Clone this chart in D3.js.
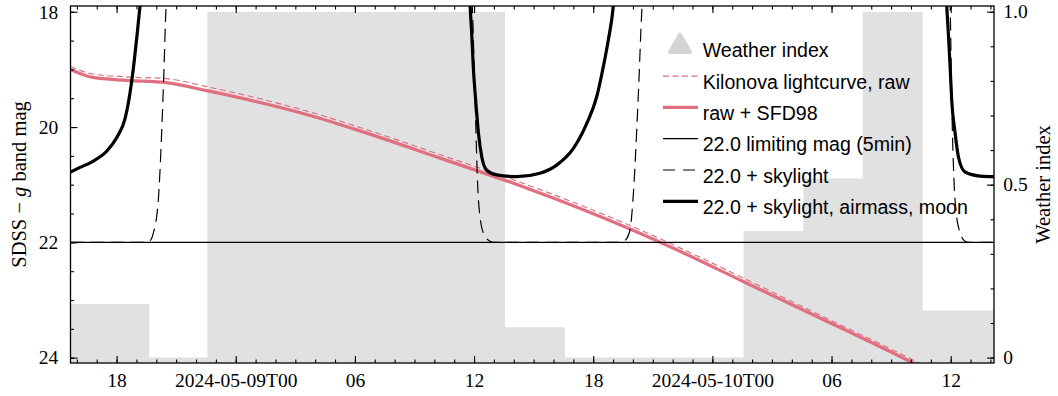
<!DOCTYPE html>
<html>
<head>
<meta charset="utf-8">
<script src="https://cdn.jsdelivr.net/npm/d3@7"></script>
<style>
body{margin:0;background:#fff;}
.tick text{font-family:"Liberation Serif",serif;font-size:19.5px;fill:#000;}
.tick line{stroke:#000;stroke-width:1.1;}
</style>
</head>
<body>
<div id="chart"></div>
<script>
//=====================data (hours from 2024-05-09T00 UTC)=========================
const baseTime = Date.UTC(2024, 4, 9, 0, 0);
const xStartHour = -8.32, xEndHour = 38.18;

const weatherHours = [-8.32, -4.35, -1.43, 13.56, 16.58, 25.57, 28.58, 31.57, 34.59, 38.18];
const weatherIndex = [0.155, 0, 1, 0.088, 0, 0.366, 0.518, 1, 0.136, 0.136];

const lcHours  = [-8.32, -7.2, -5.5, -3.5, -1.45, 3.75, 6.1, 10.3, 14.5, 20.0, 22.4, 25.5, 29.1, 33.45, 34.5];
const lcRaw    = [18.95, 19.08, 19.13, 19.16, 19.30, 19.74, 19.99, 20.48, 20.98, 21.73, 22.10, 22.61, 23.21, 23.93, 24.11];
const lcSFD98  = [19.00, 19.14, 19.19, 19.23, 19.37, 19.80, 20.05, 20.54, 21.04, 21.79, 22.16, 22.67, 23.26, 23.98, 24.16];

const limitMag = 22.0;

const skyHours = [-8.32, -4.5, -4.31, -4.15, -3.90, -3.73, -3.61, -3.52, -3.35,
                  11.75, 11.91, 12.05, 12.22, 12.47, 12.80, 13.0,
                  19.4, 19.60, 19.85, 20.00, 20.26, 20.46, 20.6,
                  35.85, 35.97, 36.05, 36.22, 36.43, 36.72, 36.9, 38.18];
const skyMag   = [22.0, 22.0, 21.97, 21.84, 21.27, 20.10, 18.96, 18.0, 17.3,
                  17.3, 17.9, 19.53, 21.27, 21.84, 21.98, 22.0,
                  22.0, 21.97, 21.79, 21.27, 19.53, 17.9, 17.3,
                  17.3, 17.9, 19.53, 21.27, 21.79, 21.98, 22.0, 22.0];

const moonHours = [-8.32, -7.84, -7.17, -6.50, -5.99, -5.57, -5.32, -5.12, -4.95, -4.82, -4.7,
                   11.7, 11.80, 11.88, 11.96, 12.08, 12.22, 12.39, 12.64, 13.14, 14.15, 15.32, 16.16, 17.00, 17.67, 18.18, 18.51, 18.76, 19.01, 19.1,
                   35.7, 35.80, 35.88, 35.97, 36.05, 36.22, 36.39, 36.72, 37.48, 38.18];
const moonMag   = [20.78, 20.70, 20.59, 20.42, 20.18, 19.85, 19.40, 18.88, 18.34, 17.9, 17.5,
                   17.5, 17.9, 18.37, 18.95, 19.53, 20.10, 20.52, 20.75, 20.83, 20.86, 20.80, 20.66, 20.37, 19.94, 19.47, 18.95, 18.49, 17.9, 17.5,
                   17.5, 17.9, 18.37, 18.95, 19.53, 20.10, 20.52, 20.78, 20.85, 20.86];

const xTickHours  = [-6, 0, 6, 12, 18, 24, 30, 36];
const xTickLabels = ['18', '2024-05-09T00', '06', '12', '18', '2024-05-10T00', '06', '12'];
const magTicks = [18, 20, 22, 24];
const weatherTicks = [0, 0.5, 1.0];
const weatherTickLabels = ['0', '0.5', '1.0'];

const legendLabels = ['Weather index', 'Kilonova lightcurve, raw', 'raw + SFD98',
                      '22.0 limiting mag (5min)', '22.0 + skylight', '22.0 + skylight, airmass, moon'];

//=====================plot size=========================
var width = 1058, height = 396;
var plotLeft = 70.5, plotTop = 6, plotRight = 994, plotBottom = 363;
var plotW = plotRight - plotLeft, plotH = plotBottom - plotTop;
var pink = '#df6f81';

function toDate(h){ return new Date(baseTime + h*3600e3); }

var svg = d3.select('#chart').append('svg')
    .attr('width', width).attr('height', height);
svg.append('rect').attr('width', width).attr('height', height).attr('fill', '#fff');

var g = svg.append('g').attr('transform', 'translate(' + plotLeft + ',' + plotTop + ')');

g.append('clipPath').attr('id', 'clip')
    .append('rect').attr('width', plotW).attr('height', plotH);

//=====================scales=========================
var x = d3.scaleUtc().domain([toDate(xStartHour), toDate(xEndHour)]).range([0, plotW]);
var y = d3.scaleLinear().domain([17.9, 24.093]).range([0, plotH]);
var yW = d3.scaleLinear().domain([-0.0156, 1.0165]).range([plotH, 0]);

var plot = g.append('g').attr('clip-path', 'url(#clip)');

//=====================weather steps=========================
var wData = weatherHours.map((h, i) => ({t: toDate(h), w: weatherIndex[i]}));
plot.append('path')
    .datum(wData)
    .attr('d', d3.area().curve(d3.curveStepAfter)
        .x(d => x(d.t)).y0(yW(yW.domain()[0])).y1(d => yW(d.w)))
    .attr('fill', '#e1e1e1');

//=====================lines=========================
function series(hours, mags){ return hours.map((h, i) => ({t: toDate(h), m: mags[i]})); }
var line = d3.line().curve(d3.curveMonotoneX).x(d => x(d.t)).y(d => y(d.m));

plot.append('path').datum(series(lcHours, lcRaw)).attr('d', line)
    .attr('fill', 'none').attr('stroke', pink).attr('stroke-width', 1.2)
    .attr('stroke-dasharray', '6,3.5');
plot.append('path').datum(series(lcHours, lcSFD98)).attr('d', line)
    .attr('fill', 'none').attr('stroke', pink).attr('stroke-width', 3.3);

plot.append('path').datum(series([xStartHour, xEndHour], [limitMag, limitMag])).attr('d', line)
    .attr('fill', 'none').attr('stroke', '#000').attr('stroke-width', 1.2);
plot.append('path').datum(series(skyHours, skyMag)).attr('d', line)
    .attr('fill', 'none').attr('stroke', '#000').attr('stroke-width', 1.2)
    .attr('stroke-dasharray', '13,7');
plot.append('path').datum(series(moonHours, moonMag)).attr('d', line)
    .attr('fill', 'none').attr('stroke', '#000').attr('stroke-width', 3.2);

//=====================axes=========================
var hourTicks = x.ticks(d3.utcHour.every(1));

g.append('g').attr('transform', 'translate(0,' + plotH + ')')
    .call(d3.axisBottom(x).tickValues(hourTicks).tickSize(-3.5).tickFormat(''));
g.append('g').attr('transform', 'translate(0,' + plotH + ')')
    .call(d3.axisBottom(x).tickValues(xTickHours.map(toDate)).tickSize(-7).tickPadding(10.2)
        .tickFormat((d, i) => xTickLabels[i]));
g.append('g')
    .call(d3.axisTop(x).tickValues(hourTicks).tickSize(-3.5).tickFormat(''));
g.append('g')
    .call(d3.axisTop(x).tickValues(xTickHours.map(toDate)).tickSize(-7).tickFormat(''));

g.append('g')
    .call(d3.axisLeft(y).tickValues(d3.range(18, 24.01, 0.5)).tickSize(-3.5).tickFormat(''));
g.append('g')
    .call(d3.axisLeft(y).tickValues(magTicks).tickSize(-7).tickPadding(12.2).tickFormat(d3.format('d')));

g.append('g').attr('transform', 'translate(' + plotW + ',0)')
    .call(d3.axisRight(yW).tickValues(d3.range(0, 1.001, 0.1)).tickSize(-3.5).tickFormat(''));
g.append('g').attr('transform', 'translate(' + plotW + ',0)')
    .call(d3.axisRight(yW).tickValues(weatherTicks).tickSize(-7).tickPadding(9.3)
        .tickFormat((d, i) => weatherTickLabels[i]));

g.selectAll('.domain').remove();

g.append('rect').attr('width', plotW).attr('height', plotH)
    .attr('fill', 'none').attr('stroke', '#000').attr('stroke-width', 1.3);

//=====================axis titles=========================
var yl = svg.append('text')
    .attr('transform', 'translate(18.5,' + (plotTop + plotH/2) + ') rotate(-90)')
    .attr('text-anchor', 'middle').attr('dy', '0.35em')
    .style('font-family', '"Liberation Serif", serif').style('font-size', '20.5px');
yl.append('tspan').text('SDSS \u2212 ');
yl.append('tspan').style('font-style', 'italic').text('g');
yl.append('tspan').text(' band mag');

svg.append('text')
    .attr('transform', 'translate(1043,' + (plotTop + plotH/2) + ') rotate(-90)')
    .attr('text-anchor', 'middle').attr('dy', '0.35em')
    .style('font-family', '"Liberation Serif", serif').style('font-size', '20.5px')
    .text('Weather index');

//=====================legend=========================
var legendStyles = [
    {type: 'marker'},
    {stroke: pink, width: 1.2, dash: '6,3.5'},
    {stroke: pink, width: 3.3, dash: null},
    {stroke: '#000', width: 1.2, dash: null},
    {stroke: '#000', width: 1.2, dash: '12,8'},
    {stroke: '#000', width: 3.2, dash: null}
];
var legend = svg.append('g');
legendLabels.forEach(function(lbl, i){
    var base = 57.3 + 31.3*i;
    var st = legendStyles[i];
    if (st.type == 'marker'){
        legend.append('path')
            .attr('d', d3.symbol(d3.symbolTriangle).size(170)())
            .attr('transform', 'translate(680,' + (base - 11) + ')')
            .attr('fill', '#d4d4d4').attr('stroke', '#d4d4d4')
            .attr('stroke-width', 4).attr('stroke-linejoin', 'round');
    } else {
        legend.append('line')
            .attr('x1', 663).attr('x2', 698)
            .attr('y1', base - 12.5).attr('y2', base - 12.5)
            .attr('stroke', st.stroke).attr('stroke-width', st.width)
            .attr('stroke-dasharray', st.dash);
    }
    legend.append('text')
        .attr('x', 702.7).attr('y', base)
        .style('font-family', '"Liberation Sans", Arial, sans-serif').style('font-size', '19.6px')
        .text(lbl);
});
</script>
</body>
</html>
